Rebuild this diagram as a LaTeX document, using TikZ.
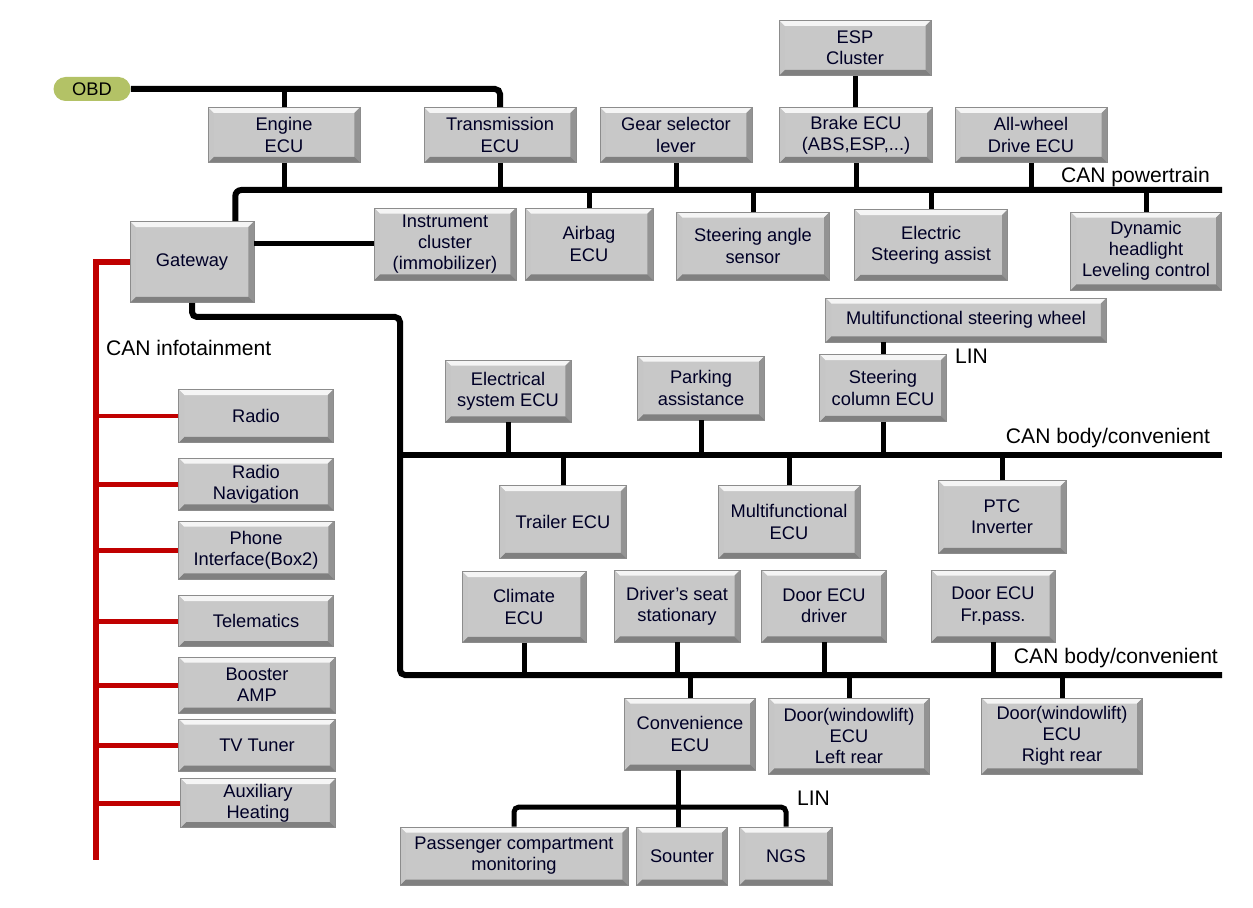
\documentclass[tikz,border=0pt]{standalone}
\usepackage{fontspec}
\setmainfont{Liberation Sans}
\usepackage{tikz}
\usetikzlibrary{shapes,calc}
\definecolor{boxgray}{HTML}{C8C8C8}
\definecolor{obdgreen}{HTML}{B3C266}
\definecolor{infored}{HTML}{C00000}
\newcommand{\bv}{0.11cm}
\tikzset{bevel/.style={path picture={
  \coordinate (pA) at (path picture bounding box.north west);
  \coordinate (pB) at (path picture bounding box.north east);
  \coordinate (pC) at (path picture bounding box.south east);
  \coordinate (pD) at (path picture bounding box.south west);
  \fill[white!92!gray] (pA) -- (pB) -- ([shift={(-\bv,-\bv)}]pB) -- ([shift={(\bv,-\bv)}]pA) -- cycle;
  \fill[gray!85] (pB) -- (pC) -- ([shift={(-\bv,\bv)}]pC) -- ([shift={(-\bv,-\bv)}]pB) -- cycle;
  \fill[gray!100] (pC) -- (pD) -- ([shift={(\bv,\bv)}]pD) -- ([shift={(-\bv,\bv)}]pC) -- cycle;
  \fill[gray!45] (pD) -- (pA) -- ([shift={(\bv,-\bv)}]pA) -- ([shift={(\bv,\bv)}]pD) -- cycle;
}}}
\tikzstyle{ecu} = [rectangle, draw=gray!90, thin, fill=boxgray, align=center, inner sep=1pt, font=\fontsize{10.4}{12}\selectfont, text=black!85!blue, bevel]
\tikzstyle{bus} = [line width=1.2mm, black]
\tikzstyle{stub} = [line width=1mm, black]
\tikzstyle{infobus} = [line width=1.2mm, infored]
\tikzstyle{buslabel} = [inner sep=1pt, font=\fontsize{12}{14}\selectfont]
\begin{document}
\begin{tikzpicture}[x=0.02cm, y=-0.02cm]
\useasboundingbox (0,0) rectangle (1253,908);

% powertrain side
\node [rectangle, rounded corners=0.24cm, fill=obdgreen, minimum width=1.54cm, minimum height=0.48cm, inner sep=0pt, font=\fontsize{10.4}{12}\selectfont] (obd) at (92,89) {OBD};
\node [ecu, minimum width=3.04cm, minimum height=1.1cm] (engine) at (284,135) {Engine\\ECU};
\node [ecu, minimum width=3.04cm, minimum height=1.1cm] (trans) at (500,135) {Transmission\\ECU};
\node [ecu, minimum width=3.04cm, minimum height=1.1cm] (gear) at (676,135) {Gear selector\\lever};
\node [ecu, minimum width=3.06cm, minimum height=1.1cm] (brake) at (856,135) {Brake ECU\\(ABS,ESP,...)};
\node [ecu, minimum width=3.04cm, minimum height=1.1cm] (esp) at (855,48) {ESP\\Cluster};
\node [ecu, minimum width=3.04cm, minimum height=1.1cm] (awd) at (1031,135) {All-wheel\\Drive ECU};
\node [ecu, minimum width=2.48cm, minimum height=1.62cm] (gw) at (192,262) {Gateway};
\node [ecu, minimum width=2.84cm, minimum height=1.44cm] (instr) at (445,244) {Instrument\\cluster\\(immobilizer)};
\node [ecu, minimum width=2.56cm, minimum height=1.44cm] (airbag) at (589,244) {Airbag\\ECU};
\node [ecu, minimum width=3.06cm, minimum height=1.36cm] (steer) at (753,246) {Steering angle\\sensor};
\node [ecu, minimum width=3.06cm, minimum height=1.42cm] (elsteer) at (931,245) {Electric\\Steering assist};
\node [ecu, minimum width=3.02cm, minimum height=1.56cm] (dyn) at (1146,251) {Dynamic\\headlight\\Leveling control};

% body/convenience side
\node [ecu, minimum width=5.62cm, minimum height=0.88cm] (mfsw) at (966,320) {Multifunctional steering wheel};
\node [ecu, minimum width=2.54cm, minimum height=1.34cm] (scol) at (883,388) {Steering\\column ECU};
\node [ecu, minimum width=2.52cm, minimum height=1.24cm] (elsys) at (508,391) {Electrical\\system ECU};
\node [ecu, minimum width=2.54cm, minimum height=1.28cm] (park) at (701,388) {Parking\\assistance};
\node [ecu, minimum width=2.54cm, minimum height=1.46cm] (trailer) at (563,522) {Trailer ECU};
\node [ecu, minimum width=2.84cm, minimum height=1.46cm] (mfecu) at (789,522) {Multifunctional\\ECU};
\node [ecu, minimum width=2.56cm, minimum height=1.46cm] (ptc) at (1002,517) {PTC\\Inverter};
\node [ecu, minimum width=2.48cm, minimum height=1.42cm] (climate) at (524,607) {Climate\\ECU};
\node [ecu, minimum width=2.52cm, minimum height=1.44cm] (seat) at (677,606) {Driver's seat\\stationary};
\node [ecu, minimum width=2.5cm, minimum height=1.44cm] (doordrv) at (824,606) {Door ECU\\driver};
\node [ecu, minimum width=2.48cm, minimum height=1.44cm] (doorfp) at (993,606) {Door ECU\\Fr.pass.};
\node [ecu, minimum width=2.62cm, minimum height=1.44cm] (conv) at (690,734) {Convenience\\ECU};
\node [ecu, minimum width=3.22cm, minimum height=1.52cm] (doorlr) at (849,736) {Door(windowlift)\\ECU\\Left rear};
\node [ecu, minimum width=3.22cm, minimum height=1.52cm] (doorrr) at (1062,736) {Door(windowlift)\\ECU\\Right rear};
\node [ecu, minimum width=4.56cm, minimum height=1.16cm] (pcm) at (514,856) {Passenger compartment\\monitoring};
\node [ecu, minimum width=1.82cm, minimum height=1.16cm] (sounter) at (682,856) {Sounter};
\node [ecu, minimum width=1.86cm, minimum height=1.16cm] (ngs) at (786,856) {NGS};

% infotainment
\node [ecu, minimum width=3.1cm, minimum height=1.06cm] (radio) at (256,416) {Radio};
\node [ecu, minimum width=3.1cm, minimum height=1.04cm] (radnav) at (256,484) {Radio\\Navigation};
\node [ecu, minimum width=3.12cm, minimum height=1.16cm] (phone) at (256,550) {Phone\\Interface(Box2)};
\node [ecu, minimum width=3.1cm, minimum height=1.02cm] (telem) at (256,621) {Telematics};
\node [ecu, minimum width=3.14cm, minimum height=1.12cm] (booster) at (257,685) {Booster\\AMP};
\node [ecu, minimum width=3.14cm, minimum height=1.04cm] (tv) at (257,745) {TV Tuner};
\node [ecu, minimum width=3.1cm, minimum height=0.98cm] (aux) at (258,803) {Auxiliary\\Heating};

% bus ends
\coordinate (ptR) at (1222,190);
\coordinate (drop) at (400,317);
\coordinate (bbR) at (1222,455);
\coordinate (b2R) at (1222,675);
\coordinate (linC) at (678,807);
\coordinate (infB) at (96,860);

% OBD line
\draw [bus, rounded corners=0.1cm] (obd.east) -| (trans.north);
\draw [stub] (engine.north) -- (engine.north |- obd.east);
\draw [stub] (esp.south) -- (esp.south |- brake.north);

% CAN powertrain
\draw [bus, rounded corners=0.12cm] ($(gw.north east)+(-19,0)$) |- (ptR);
\foreach \n in {engine,trans,gear,brake,awd}
  \draw [stub] (\n.south) -- (\n.south |- ptR);
\foreach \n in {airbag,steer,elsteer,dyn}
  \draw [stub] (\n.north) -- (\n.north |- ptR);
\draw [stub] (instr.west -| gw.east) -- (instr.west);
\node [buslabel, anchor=south east] at (1212,189) {CAN powertrain};

% CAN body/convenient
\draw [bus, rounded corners=0.1cm] (gw.south) |- (drop) |- (b2R);
\draw [bus] (drop |- bbR) -- (bbR);
\foreach \n in {elsys,park,scol}
  \draw [stub] (\n.south) -- (\n.south |- bbR);
\foreach \n in {trailer,mfecu,ptc}
  \draw [stub] (\n.north) -- (\n.north |- bbR);
\draw [stub] (scol.north) -- (scol.north |- mfsw.south);
\node [buslabel, anchor=west] at (953,356) {LIN};
\node [buslabel, anchor=south east] at (1212,450) {CAN body/convenient};
\foreach \n in {climate,seat,doordrv,doorfp}
  \draw [stub] (\n.south) -- (\n.south |- b2R);
\foreach \n in {conv,doorlr,doorrr}
  \draw [stub] (\n.north) -- (\n.north |- b2R);
\node [buslabel, anchor=south east] at (1220,670) {CAN body/convenient};

% LIN under convenience ECU
\draw [stub] (linC |- conv.south) -- (linC |- sounter.north);
\draw [stub, rounded corners=0.1cm] (pcm.north) |- (linC) -| (ngs.north);
\node [buslabel, anchor=west] at (795,798) {LIN};

% CAN infotainment
\draw [infobus] (gw.west) -| (infB);
\foreach \n in {radio,radnav,phone,telem,booster,tv,aux}
  \draw [infored, line width=1mm] (\n.west) -- (\n.west -| infB);
\node [buslabel, anchor=west] at (104,348) {CAN infotainment};
\end{tikzpicture}
\end{document}
